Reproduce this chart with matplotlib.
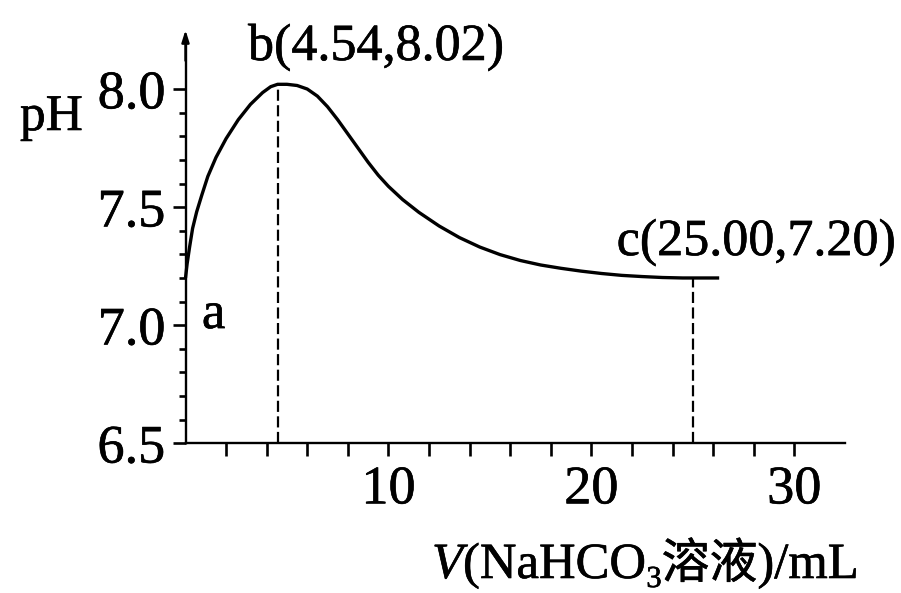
import matplotlib
matplotlib.use("Agg")
import matplotlib.pyplot as plt
import matplotlib.patheffects as pe
from matplotlib.ticker import FixedLocator, NullFormatter

# ---- data ----
volume_ml = [0.0, 0.08, 0.2, 0.35, 0.55, 0.8, 1.1, 1.5, 2.0, 2.6, 3.2, 3.8,
             4.2, 4.54, 5.0, 5.5, 6.0, 6.5, 7.0, 7.5, 8.0, 8.5, 9.0, 9.5,
             10.0, 10.7, 11.5, 12.5, 13.5, 14.5, 15.5, 16.5, 17.5, 18.5,
             19.5, 20.5, 21.5, 22.5, 23.5, 24.5, 25.0, 25.7, 26.3]
ph_values = [7.20, 7.26, 7.33, 7.41, 7.48, 7.55, 7.63, 7.71, 7.79, 7.87,
             7.935, 7.985, 8.01, 8.02, 8.02, 8.015, 8.00, 7.97, 7.925, 7.87,
             7.81, 7.75, 7.69, 7.635, 7.588, 7.532, 7.478, 7.420, 7.371,
             7.331, 7.299, 7.274, 7.255, 7.241, 7.229, 7.219, 7.211, 7.206,
             7.202, 7.20, 7.20, 7.20, 7.20]
point_b = (4.54, 8.02)
point_c = (25.00, 7.20)
y_major = [6.5, 7.0, 7.5, 8.0]
y_major_labels = ["6.5", "7.0", "7.5", "8.0"]
y_minor = [6.6, 6.7, 6.8, 6.9, 7.1, 7.2, 7.3, 7.4, 7.6, 7.7, 7.8, 7.9]
x_major = [10, 20, 30]
x_major_labels = ["10", "20", "30"]
x_minor = [2, 4, 6, 8, 12, 14, 16, 18, 22, 24, 26, 28]

W, H = 901, 593
SERIF = ["Liberation Serif", "DejaVu Serif"]
CJK = ["Noto Sans CJK SC", "DejaVu Sans"]
THICK = [pe.withStroke(linewidth=0.45, foreground="black")]

fig = plt.figure(figsize=(W / 100, H / 100), dpi=100)
x0_px, x1_px = 185.5, 845.0
ybot_px, ytop_px = 443.3, 41.8
ax = fig.add_axes([x0_px / W, 1 - ybot_px / H, (x1_px - x0_px) / W,
                   (ybot_px - ytop_px) / H])
ax.set_xlim(0, 32.5)
ax.set_ylim(6.5, 8.2)
ax.patch.set_alpha(0)

for s in ("top", "right"):
    ax.spines[s].set_visible(False)
for s in ("left", "bottom"):
    ax.spines[s].set_linewidth(1.7)
    ax.spines[s].set_color("black")

# y-axis arrow
ax.annotate("", xy=(0, 8.25), xytext=(0, 8.12),
            arrowprops=dict(arrowstyle="-|>,head_length=0.7,head_width=0.22",
                            color="black", lw=1.7, shrinkA=0, shrinkB=0),
            annotation_clip=False)

# ticks
ax.yaxis.set_major_locator(FixedLocator(y_major))
ax.set_yticklabels(y_major_labels)
ax.yaxis.set_minor_locator(FixedLocator(y_minor))
ax.xaxis.set_major_locator(FixedLocator(x_major))
ax.set_xticklabels(x_major_labels)
ax.xaxis.set_minor_locator(FixedLocator(x_minor))
ax.xaxis.set_minor_formatter(NullFormatter())
ax.tick_params(axis="y", which="major", direction="out", length=9.5, width=1.9,
               pad=5, labelsize=39)
ax.tick_params(axis="y", which="minor", direction="out", length=5, width=1.9)
ax.tick_params(axis="x", which="both", direction="out", length=9.5, width=1.9,
               pad=6, labelsize=39)
for lab in ax.get_xticklabels() + ax.get_yticklabels():
    lab.set_fontfamily(SERIF)
    lab.set_path_effects(THICK)

# curve
ax.plot(volume_ml, ph_values, color="black", lw=2.4, solid_capstyle="butt",
        solid_joinstyle="round", clip_on=False)

# dashed guides
for (vx, vy) in (point_b, point_c):
    ax.plot([vx, vx], [6.5, vy], color="black", lw=1.6, dashes=(5, 2),
            clip_on=False)

# annotations
ax.text(3.08, 8.123, "b(4.54,8.02)", fontsize=37.5, family=SERIF,
        ha="left", va="baseline", path_effects=THICK)
ax.text(21.25, 7.297, "c(25.00,7.20)", fontsize=37.5, family=SERIF,
        ha="left", va="baseline", path_effects=THICK)
ax.text(0.81, 6.988, "a", fontsize=38, family=SERIF, ha="left",
        va="baseline", path_effects=THICK)

fig.text(20 / W, 1 - 130 / H, "pH", fontsize=37, family=SERIF,
         ha="left", va="baseline", path_effects=THICK)

# x-axis label built from pieces (italic V, subscript 3, CJK)
base_y = H - 578
pieces = [
    ("V", dict(family=SERIF, style="italic", fontsize=36.5), 0),
    ("(NaHCO", dict(family=SERIF, fontsize=36.5), 0),
    ("3", dict(family=SERIF, fontsize=22), -9),
    ("溶液", dict(family=CJK, fontsize=34.5), 0),
    (")/mL", dict(family=SERIF, fontsize=36.5), 0),
]
prev = None
for text, kw, dy in pieces:
    if prev is None:
        prev = ax.annotate(text, xy=(432, base_y + dy), xycoords="figure pixels",
                           ha="left", va="baseline", annotation_clip=False,
                           path_effects=THICK, **kw)
    else:
        prev = ax.annotate(text, xy=(1, base_y + dy),
                           xycoords=(prev, "figure pixels"),
                           ha="left", va="baseline", annotation_clip=False,
                           path_effects=THICK, **kw)

fig.savefig("out.png", dpi=100, facecolor="white")
